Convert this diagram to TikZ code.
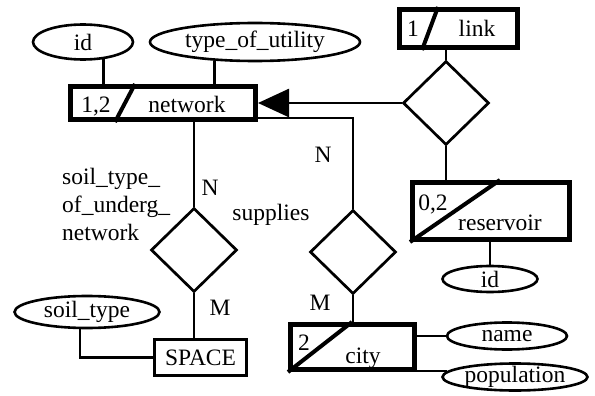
\documentclass[tikz,border=0pt]{standalone}
\usepackage{fontspec}
\setmainfont{Liberation Serif}
\usetikzlibrary{shapes.geometric, arrows.meta}
\tikzset{
every node/.style={font=\fontsize{23.5}{28}\selectfont, inner sep=0pt}, % same size of text everywhere
entity/.style={draw, line width=5pt}, % thick frame of the entity boxes
plain/.style={draw, line width=2.6pt}, % thin frame of a plain box
rel/.style={draw, diamond, line width=2.7pt, minimum width=86pt, minimum height=84pt}, % relationships
attr/.style={draw, ellipse, line width=2.6pt, inner ysep=-4pt}, % attributes
link/.style={line width=2.6pt}, % lines between nodes
slash/.style={line width=4pt}, % the diagonal in an entity box
tag/.style={anchor=base}, % texts put on their baseline
}
\begin{document}
\begin{tikzpicture}[x=1pt, y=-1pt]
\useasboundingbox (0,0) rectangle (595,396);
% entities
\node[entity, minimum width=185pt, minimum height=33pt] (net) at (163,103) {};
\node[entity, minimum width=118pt, minimum height=38pt] (lnk) at (458.5,28.5) {};
\node[entity, minimum width=157pt, minimum height=57pt] (res) at (491,211) {};
\node[entity, minimum width=124pt, minimum height=45pt] (city) at (352.5,347) {};
\node[plain, minimum width=92pt, minimum height=36pt] (space) at (200.5,357.5) {SPACE};
\draw[slash] ([xshift=67pt]net.north west) -- ([xshift=47pt]net.south west);
\draw[slash] ([xshift=41pt]lnk.north west) -- ([xshift=25pt]lnk.south west);
\draw[slash] (res.south west) -- ([xshift=90pt]res.north west);
\draw[slash] (city.south west) -- ([xshift=64pt]city.north west);
\node[tag] (netc) at (96,113) {1,2};
\node[tag] (netn) at (187,113) {network};
\node[tag] (lnkc) at (413,37) {1};
\node[tag] (lnkn) at (477,37) {link};
\node[tag] (resc) at (433,210) {0,2};
\node[tag] (resn) at (500,230) {reservoir};
\node[tag] (cityc) at (304,350) {2};
\node[tag] (cityn) at (363,363) {city};
% relationships
\node[rel] (rlink) at (446,103) {};
\node[rel] (rsoil) at (194,250) {};
\node[rel] (rsup) at (353,252) {};
% attributes
\node[attr, minimum width=100pt, minimum height=35pt] (aid) at (83,42) {id};
\node[attr, minimum width=210pt, minimum height=38pt] (autil) at (255,42) {type\_of\_utility};
\node[attr, minimum width=95pt, minimum height=26pt] (aresid) at (490,279) {id};
\node[attr, minimum width=145pt, minimum height=32pt] (asoil) at (87,312) {soil\_type};
\node[attr, minimum width=120pt, minimum height=27pt] (aname) at (507,336) {name};
\node[attr, minimum width=145pt, minimum height=27pt] (apop) at (515,377) {population};
% lines
\draw[link] (aid.-40) -- (aid.-40 |- net.north);
\draw[link] (autil.-155) -- (autil.-155 |- net.north);
\draw[link, -{Triangle[length=31pt, width=28pt]}] (rlink.west) -- (net.east);
\draw[link] (rlink.north) -- (rlink.north |- lnk.south);
\draw[link] (rlink.south) -- (rlink.south |- res.north);
\draw[link] (aresid.north) -- (aresid.north |- res.south);
\draw[link] (rsoil.north) -- (rsoil.north |- net.south);
\draw[link] (rsoil.south) -- (rsoil.south |- space.north);
\draw[link] ([xshift=-7pt]asoil.south) |- (space.west);
\draw[link] (rsup.north) |- ([yshift=4pt]net.south east);
\draw[link] (rsup.south) -- (rsup.south |- city.north);
\draw[link] (aname.west) -- (aname.west -| city.east);
\draw[link] (apop.175) -- (apop.175 -| city.east);
% cardinalities and names of relationships
\node[tag] (n1) at (210,195) {N};
\node[tag] (m1) at (220,315) {M};
\node[tag] (n2) at (323,162) {N};
\node[tag] (m2) at (320,310) {M};
\node[tag] (lsup) at (271,220) {supplies};
\node[anchor=base west, align=left] (lsoil) at (62,240) {soil\_type\_\\of\_underg\_\\network};
\end{tikzpicture}
\end{document}
